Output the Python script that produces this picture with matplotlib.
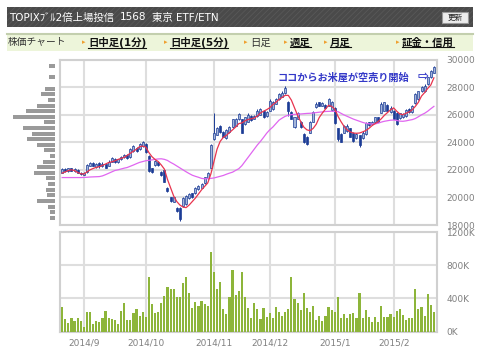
import matplotlib
matplotlib.use('Agg')
import matplotlib.pyplot as plt
from matplotlib.patches import Rectangle, FancyBboxPatch
from matplotlib.lines import Line2D
from matplotlib.transforms import Bbox
import numpy as np
import pandas as pd

# ---------------- data ----------------
holidays = ['2014-09-15', '2014-09-23', '2014-10-13', '2014-11-03', '2014-11-24',
            '2014-12-23', '2014-12-31', '2015-01-01', '2015-01-02', '2015-01-12',
            '2015-02-11']
dates = pd.bdate_range('2014-08-21', '2015-02-20', freq='C', holidays=holidays)

open_ = [21800, 22050, 21900, 22100, 21900, 22000, 21800, 21650, 21850, 22300,
         22500, 22200, 22500, 22250, 22400, 22300, 22600, 22800, 22600, 22750,
         22900, 23100, 22900, 23350, 23600, 23500, 23700, 23900, 23000, 22100,
         22350, 22600, 21850, 22000, 20700, 20000, 19700, 19250, 19250, 19350,
         19500, 19950, 20300, 20300, 20600, 20700, 21050, 21400, 22150, 24200,
         24550, 25200, 24750, 24300, 24750, 25100, 25200, 25650, 25650, 25300,
         25500, 25900, 25700, 25900, 26000, 26300, 25900, 26300, 26400, 26800,
         27100, 27300, 27550, 26950, 26200, 25100, 25700, 25500, 24600, 24400,
         24700, 25500, 26550, 26900, 26650, 26700, 26650, 26350, 26500, 25000,
         24600, 24700, 24800, 25000, 24700, 24300, 24500, 24300, 24600, 25450,
         25300, 25500, 25800, 26150, 26300, 26700, 26200, 26300, 26100, 25750,
         25800, 25900, 26400, 26200, 26850, 27100, 27700, 27700, 28200, 28700,
         29050]
high = [22100, 22150, 22150, 22150, 22100, 22050, 21850, 21850, 22400, 22600,
        22550, 22500, 22550, 22550, 22450, 22700, 22900, 22850, 22800, 23000,
        23150, 23150, 23600, 23800, 23650, 23950, 24100, 23950, 23100, 22150,
        22700, 22650, 21900, 22050, 20750, 20050, 20050, 19300, 19300, 20000,
        20150, 20300, 20350, 20750, 20900, 21050, 21500, 21850, 23850, 26100,
        25100, 25250, 24800, 24950, 25150, 25700, 25750, 26100, 25700, 25850,
        26100, 25950, 25950, 26400, 26450, 26350, 26250, 27100, 27000, 27200,
        27600, 27700, 28050, 27000, 26250, 25850, 26200, 25550, 24700, 24450,
        25550, 26300, 26900, 26950, 26900, 26750, 27200, 27000, 26550, 25050,
        24650, 25250, 25300, 25050, 24750, 24700, 24550, 24800, 25450, 25500,
        25550, 25850, 25850, 26900, 26950, 26750, 26600, 26350, 26200, 26150,
        26150, 26400, 26450, 26700, 27600, 27750, 28050, 28200, 28750, 29250,
        29500]
low = [21750, 21850, 21850, 21900, 21850, 21750, 21600, 21600, 21800, 22250,
       22250, 22150, 22150, 22200, 22100, 22250, 22550, 22500, 22500, 22700,
       22850, 22800, 22850, 23300, 23300, 23450, 23650, 23250, 21850, 21800,
       22300, 22300, 21550, 21100, 20400, 19700, 19650, 18950, 18300, 19300,
       19450, 19900, 19950, 20250, 20550, 20650, 21000, 21350, 22100, 24150,
       24500, 24700, 24350, 24250, 24700, 25050, 25150, 25600, 24650, 25250,
       25450, 25550, 25650, 25850, 25950, 25750, 25850, 26250, 26350, 26750,
       27050, 27250, 27500, 25900, 25650, 25050, 25650, 25000, 23950, 23800,
       24650, 25450, 26500, 26600, 26600, 26450, 26600, 26300, 25350, 24100,
       24000, 24650, 24750, 24350, 24050, 24250, 23650, 24250, 24550, 25200,
       25250, 25450, 25450, 26100, 26250, 26250, 26150, 25650, 25250, 25700,
       25750, 25850, 26150, 26150, 26800, 27050, 27650, 27650, 28150, 28650,
       29000]
close = [22050, 21900, 22100, 21950, 22050, 21800, 21700, 21800, 22350, 22500,
         22300, 22450, 22250, 22450, 22150, 22600, 22850, 22550, 22750, 22950,
         23100, 22850, 23500, 23700, 23350, 23850, 24050, 23300, 21900, 21850,
         22650, 22350, 21600, 21150, 20450, 19750, 20000, 19000, 18400, 19950,
         20100, 20250, 20000, 20700, 20850, 21000, 21450, 21800, 23800, 24700,
         25050, 24750, 24400, 24900, 25100, 25650, 25700, 26050, 24700, 25800,
         26000, 25600, 25900, 26300, 26400, 25800, 26200, 27000, 26900, 27100,
         27500, 27600, 27950, 26300, 25700, 25800, 26100, 25100, 24000, 23850,
         25500, 26200, 26800, 26650, 26850, 26500, 27100, 26950, 25400, 24200,
         24050, 25200, 25200, 24400, 24100, 24600, 23800, 24700, 25400, 25250,
         25500, 25800, 25500, 26800, 26900, 26300, 26500, 25700, 25300, 26100,
         26050, 26350, 26200, 26600, 27500, 27700, 28000, 28100, 28700, 29200,
         29450]
ma_short = [21760, 21850, 21950, 22000, 21950, 21800, 21720, 21690, 21850, 22000,
            22100, 22180, 22230, 22320, 22420, 22530, 22580, 22650, 22750, 22830,
            22900, 23050, 23200, 23350, 23500, 23680, 23720, 23650, 23250, 22950,
            22750, 22600, 22350, 22050, 21300, 20700, 20100, 19700, 19450, 19300,
            19260, 19450, 19700, 19950, 20250, 20550, 20800, 21050, 21700, 22600,
            23500, 24060, 24350, 24500, 24700, 24900, 25100, 25350, 25400, 25550,
            25650, 25700, 25760, 25900, 26120, 26250, 26360, 26500, 26730, 26900,
            27100, 27250, 27400, 27400, 27050, 26500, 25950, 25500, 25100, 24900,
            24840, 25000, 25300, 25800, 26120, 26400, 26680, 26600, 26400, 25900,
            25500, 25150, 24900, 24750, 24670, 24650, 24670, 24750, 24850, 25000,
            25200, 25350, 25500, 25700, 25950, 26150, 26350, 26490, 26250, 26050,
            26000, 26100, 26200, 26350, 26600, 26900, 27350, 27600, 27900, 28150,
            28670]
ma_long = [21440, 21440, 21440, 21440, 21440, 21440, 21440, 21450, 21460, 21480,
           21490, 21500, 21510, 21560, 21650, 21750, 21850, 21950, 22000, 22060,
           22120, 22170, 22260, 22350, 22450, 22540, 22600, 22660, 22690, 22720,
           22760, 22790, 22800, 22760, 22680, 22540, 22420, 22280, 22140, 22000,
           21860, 21730, 21610, 21530, 21460, 21380, 21350, 21360, 21380, 21410,
           21470, 21530, 21590, 21680, 21760, 21830, 21960, 22080, 22300, 22600,
           22900, 23200, 23500, 23800, 24060, 24350, 24650, 24900, 25100, 25350,
           25600, 25750, 25880, 25960, 26000, 26020, 26040, 26050, 26070, 26090,
           26100, 26120, 26150, 26180, 26200, 26230, 26240, 26250, 26240, 26220,
           26100, 25980, 25880, 25780, 25680, 25600, 25520, 25440, 25380, 25340,
           25320, 25330, 25380, 25460, 25520, 25560, 25600, 25610, 25580, 25530,
           25520, 25550, 25600, 25640, 25720, 25850, 25990, 26100, 26250, 26430,
           26600]
volume_k = [292, 151, 99, 159, 127, 167, 127, 58, 239, 231, 90, 127, 118, 167, 251,
            159, 151, 135, 90, 251, 340, 143, 143, 227, 275, 187, 231, 171, 654, 328,
            219, 235, 347, 428, 533, 509, 516, 420, 412, 589, 654, 460, 283, 356, 308,
            368, 332, 308, 963, 721, 509, 597, 275, 207, 416, 742, 440, 488,
            721, 420, 280, 167, 347, 268, 151, 280, 179, 219, 167, 300, 239, 183, 231,
            268, 654, 388, 347, 259, 460, 280, 231, 308, 139, 187, 131, 191, 292, 259,
            239, 420, 159, 211, 167, 207, 219, 167, 460, 159, 259, 171, 118, 179, 110,
            308, 179, 179, 207, 171, 247, 271, 195, 139, 167, 159, 512, 271, 300, 191,
            448, 316, 235]
profile_levels = [29510, 29100, 28700, 28290, 27880, 27480, 27070, 26660, 26260, 25850,
                  25440, 25040, 24630, 24220, 23820, 23410, 23000, 22600, 22190, 21780,
                  21380, 20970, 20560, 20160, 19750, 19340, 18940, 18530]
profile_volume = [6, 0, 6, 0, 10, 14, 7, 18, 29, 42, 11, 32, 23, 28, 18, 11, 5, 12,
                  18, 21, 9, 7, 9, 8, 18, 7, 5, 5]
price_ticks = [18000, 20000, 22000, 24000, 26000, 28000, 30000]
vol_ticks = [0, 400, 800, 1200]
vol_tick_labels = ['0K', '400K', '800K', '1200K']
title_name = 'TOPIXﾌﾞﾙ2倍上場投信'
title_code = '1568'
title_market = '東京 ETF/ETN'
nav_items = ['日中足(1分)', '日中足(5分)', '日足', '週足', '月足', '証金・信用']
annotation = 'ココからお米屋が空売り開始'

assert len(dates) == len(close) == len(volume_k) == len(ma_short) == len(ma_long)

# ---------------- figure ----------------
plt.rcParams['font.family'] = ['DejaVu Sans', 'Noto Sans CJK JP']
W, H = 480, 357
fig = plt.figure(figsize=(4.8, 3.57), dpi=100)
fig.patch.set_facecolor('white')


def fx(x):
    return x / W


def fy(y):
    return 1 - y / H


# header bar
fig.patches.append(Rectangle((fx(7), fy(27)), 466 / W, 20 / H, transform=fig.transFigure,
                             facecolor='#4a4a4a', edgecolor='none', zorder=0))
plt.rcParams['hatch.linewidth'] = 0.6
fig.patches.append(Rectangle((fx(7), fy(27)), 466 / W, 20 / H, transform=fig.transFigure,
                             facecolor='none', edgecolor='#585858', hatch='//////',
                             linewidth=0, zorder=0))
fig.text(fx(9), fy(17.5), title_name, color='white', fontsize=7.5, va='center',
         family=['DejaVu Sans', 'Noto Sans CJK JP'])
fig.text(fx(120), fy(17.5), title_code, color='white', fontsize=7.5, va='center')
fig.text(fx(152), fy(17.5), title_market, color='white', fontsize=7.5, va='center')
fig.patches.append(FancyBboxPatch((fx(442), fy(23)), 26 / W, 11 / H, transform=fig.transFigure,
                                  boxstyle='square,pad=0', facecolor='#ececec',
                                  edgecolor='#999999', linewidth=0.8, zorder=1))
fig.text(fx(455), fy(17.5), '更新', color='#222222', fontsize=5.5, ha='center', va='center')

# nav bar
fig.patches.append(Rectangle((fx(7), fy(51)), 466 / W, 17 / H, transform=fig.transFigure,
                             facecolor='#edf5da', edgecolor='none', zorder=0))
fig.lines.append(Line2D([fx(7), fx(473)], [fy(34), fy(34)], transform=fig.transFigure,
                        color='#c3cfae', linewidth=1.5))
fig.text(fx(8), fy(42.5), '株価チャート', color='#333333', fontsize=7, va='center')
nav_x = [88, 170, 250, 290, 330, 402]
nav_link = [True, True, False, True, True, True]
link_texts = []
for label, xx, link in zip(nav_items, nav_x, nav_link):
    fig.text(fx(xx - 6), fy(42.5), '▸', color='#f0a030', fontsize=5, va='center')
    t = fig.text(fx(xx), fy(42.5), label, color='#111111' if link else '#333333',
                 fontsize=7.5, fontweight='bold' if link else 'normal', va='center')
    if link:
        link_texts.append(t)

# ---------------- price axes ----------------
x = np.arange(len(close))
month_idx = [i for i in range(1, len(dates)) if dates[i].month != dates[i - 1].month]
month_lab = [f'{dates[i].year}/{dates[i].month}' for i in month_idx]

p_bottom, p_top = 225, 59.5
axp = fig.add_axes([fx(60), fy(p_bottom), 377 / W, (p_bottom - p_top) / H])
axp.set_xlim(-0.7, 121.0)
axp.set_ylim(price_ticks[0], price_ticks[-1])
axp.set_yticks(price_ticks)
axp.set_xticks(month_idx)
axp.grid(True, color='#dedede', linewidth=1.5)
axp.set_axisbelow(True)
axp.yaxis.tick_right()
axp.tick_params(length=0, labelbottom=False, labelright=True, labelsize=6.5,
                labelcolor='#808080', pad=7)
for s in axp.spines.values():
    s.set_color('#d0d0d0')
    s.set_linewidth(1.5)

o = np.array(open_)
c = np.array(close)
up = c >= o
body_bot = np.minimum(o, c)
body_h = np.maximum(np.abs(c - o), 60)
navy = '#1c3c96'
axp.vlines(x, low, high, color=navy, linewidth=0.7, zorder=2)
axp.bar(x[up], body_h[up], bottom=body_bot[up], width=0.65, facecolor='#a3b5da',
        edgecolor=navy, linewidth=0.5, zorder=3)
axp.bar(x[~up], body_h[~up], bottom=body_bot[~up], width=0.65, facecolor=navy,
        edgecolor=navy, linewidth=0.5, zorder=3)
axp.plot(x, ma_long, color='#e066f0', linewidth=0.9, zorder=4)
axp.plot(x, ma_short, color='#e8344e', linewidth=0.9, zorder=4)

axp.text(69.5, 28720, annotation, color='#3338c8', fontsize=7.3, fontweight='bold',
         va='center', ha='left', family=['Noto Sans CJK JP', 'DejaVu Sans'], zorder=5)
axp.text(114.8, 28720, '⇨', color='#3338c8', fontsize=9.5, fontweight='bold',
         va='center', ha='left', family=['DejaVu Sans'], zorder=5)

# volume profile
axf = fig.add_axes([fx(12), fy(p_bottom), 43 / W, (p_bottom - p_top) / H])
axf.barh(profile_levels, profile_volume, height=290, color='#9a9a9a')
axf.set_xlim(43, 0)
axf.set_ylim(price_ticks[0], price_ticks[-1])
axf.axis('off')

# ---------------- volume axes ----------------
v_bottom, v_top = 331.5, 232
axv = fig.add_axes([fx(60), fy(v_bottom), 377 / W, (v_bottom - v_top) / H])
axv.set_xlim(-0.7, 121.0)
axv.set_ylim(0, 1200)
axv.set_yticks(vol_ticks)
axv.set_yticklabels(vol_tick_labels)
axv.set_xticks(month_idx)
axv.set_xticklabels(month_lab)
axv.grid(True, color='#dedede', linewidth=1.5)
axv.set_axisbelow(True)
axv.yaxis.tick_right()
axv.tick_params(length=0, labelsize=6.5, labelcolor='#808080')
axv.tick_params(axis='y', pad=7)
axv.tick_params(axis='x', pad=5)
for s in axv.spines.values():
    s.set_color('#d0d0d0')
    s.set_linewidth(1.5)
axv.bar(x, volume_k, width=0.7, color='#8db53a', zorder=3)

# the lowest price label is partly hidden by the volume panel, as in the reference
fig.canvas.draw()
r = fig.canvas.get_renderer()
clip = Bbox([[0, (H - 228.5)], [W, H]])
for lab in axp.get_yticklabels():
    if lab.get_text() in ('18000', '18,000', '−18000'):
        lab.set_clip_box(clip)
        lab.set_clip_on(True)

# underline links
for t in link_texts:
    bb = t.get_window_extent(r)
    yline = bb.y0 + 0.5
    fig.lines.append(Line2D([bb.x0 / W, bb.x1 / W], [yline / H, yline / H],
                            transform=fig.transFigure, color='#111111', linewidth=0.8))

fig.savefig('out.png', dpi=100)
